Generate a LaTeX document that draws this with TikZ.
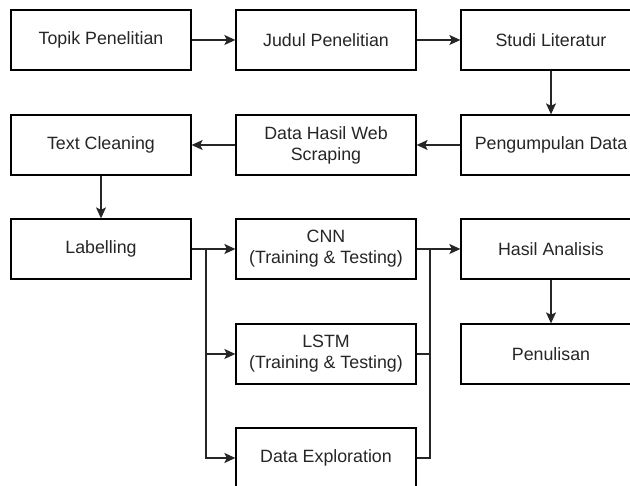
\documentclass[tikz,border=0pt]{standalone}
\usepackage{fontspec}
\setmainfont{Liberation Sans}
\usetikzlibrary{arrows.meta}
\tikzset{
  box/.style={draw=black, line width=1.3pt, minimum width=180pt, minimum height=60pt,
    inner sep=0pt, align=center, font=\fontsize{17.8}{21}\selectfont, text=black!85},
  conn/.style={line width=1.3pt, draw=black!85},
  arr/.style={conn, -{Stealth[length=11pt,width=10pt,inset=2.5pt]}}
}
\begin{document}
\begin{tikzpicture}[x=1pt,y=-1pt]
\useasboundingbox (0,0) rectangle (630,486);
\clip (0,0) rectangle (630,486);
\fill[white] (0,0) rectangle (630,486);
\node[box] (topik) at (101,40) {Topik Penelitian};
\node[box] (judul) at (326,40) {Judul Penelitian};
\node[box] (studi) at (551,40) {Studi Literatur};
\node[box] (kumpul) at (551,145) {Pengumpulan Data};
\node[box] (web) at (326,145) {Data Hasil Web\\Scraping};
\node[box] (clean) at (101,145) {Text Cleaning};
\node[box] (label) at (101,249) {Labelling};
\node[box] (cnn) at (326,249) {CNN\\(Training \& Testing)};
\node[box] (lstm) at (326,354) {LSTM\\(Training \& Testing)};
\node[box] (explore) at (326,458) {Data Exploration};
\node[box] (hasil) at (551,249) {Hasil Analisis};
\node[box] (tulis) at (551,354) {Penulisan};
\coordinate (split) at (206,249);
\coordinate (merge) at (430,249);
\draw[arr] (topik) -- (judul);
\draw[arr] (judul) -- (studi);
\draw[arr] (studi) -- (kumpul);
\draw[arr] (kumpul) -- (web);
\draw[arr] (web) -- (clean);
\draw[arr] (clean) -- (label);
\draw[arr] (label) -- (cnn);
\draw[arr] (split) |- (lstm);
\draw[arr] (split) |- (explore);
\draw[conn] (lstm.east) -| (merge);
\draw[conn] (explore.east) -| (merge);
\draw[arr] (cnn) -- (hasil);
\draw[arr] (hasil) -- (tulis);
\end{tikzpicture}
\end{document}
